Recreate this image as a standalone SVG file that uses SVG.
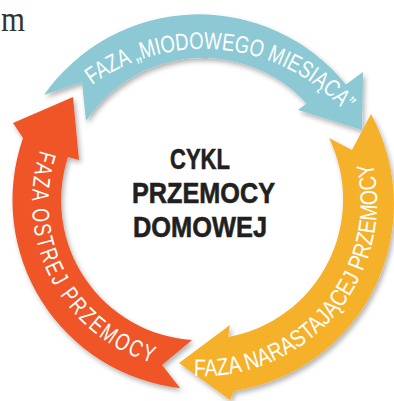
<svg xmlns="http://www.w3.org/2000/svg" width="394" height="401" viewBox="0 0 394 401">
<style>
.band{font-family:"Liberation Sans",Arial,sans-serif;font-size:24px;fill:#ffffff;}
.title{font-family:"Liberation Sans",Arial,sans-serif;font-weight:bold;font-size:29px;fill:#231f20;stroke:#231f20;stroke-width:0.6px;}
</style>
<defs>
<filter id="sh" x="-10%" y="-10%" width="120%" height="120%">
<feDropShadow dx="2" dy="3" stdDeviation="2.5" flood-color="#000" flood-opacity="0.3"/>
</filter>
<path id="pBlue" d="M 92 85 A 190.4 190.4 0 0 1 345 112"/>
<path id="pOrange" d="M 40.2 150.1 A 168 168 0 0 0 170.8 367.4"/>
<path id="pYellow" d="M 193.9 375.8 A 174 174 0 0 0 370.3 154"/>
</defs>
<rect width="394" height="401" fill="#ffffff"/>
<text x="1" y="31" textLength="24" lengthAdjust="spacingAndGlyphs" style="font-family:'Liberation Serif',serif;font-size:36px;fill:#333333">m</text>
<g id="connectors">
<g id="arrow-blue" filter="url(#sh)">
<path d="M 44 95 A 189 189 0 0 1 345.8 84.5 L 363 72 L 362 130 L 298 110 L 306.4 103.5 A 140 140 0 0 0 86 121 L 82 82 Z" fill="#8dc9d4"/>
</g>
<g id="arrow-yellow" filter="url(#sh)">
<path d="M 371 114 A 189 189 0 0 1 234 391 L 230 400 L 179 363 L 230 325 L 228 337 A 140 140 0 0 0 329 138 L 352 150 Z" fill="#f6b12a"/>
</g>
<g id="arrow-orange" filter="url(#sh)">
<path d="M 180 388 A 189 189 0 0 1 23 138 L 13 123 L 73 97 L 79 160 L 68 157 A 140 140 0 0 0 192 340 L 162 365 Z" fill="#ef5526"/>
</g>
</g>
<g id="label-blue">
<text class="band"><textPath href="#pBlue" textLength="278" lengthAdjust="spacingAndGlyphs">FAZA „MIODOWEGO MIESIĄCA”</textPath></text>
</g>
<g id="label-orange">
<text class="band" letter-spacing="3"><textPath href="#pOrange" textLength="270" lengthAdjust="spacingAndGlyphs">FAZA OSTREJ PRZEMOCY</textPath></text>
</g>
<g id="label-yellow">
<text class="band"><textPath href="#pYellow" textLength="322" lengthAdjust="spacingAndGlyphs">FAZA NARASTAJĄCEJ PRZEMOCY</textPath></text>
</g>
<g id="center-title">
<text class="title" x="170" y="169" textLength="60" lengthAdjust="spacingAndGlyphs">CYKL</text>
<text class="title" x="132" y="203" textLength="143" lengthAdjust="spacingAndGlyphs">PRZEMOCY</text>
<text class="title" x="133" y="237" textLength="134" lengthAdjust="spacingAndGlyphs">DOMOWEJ</text>
</g>
</svg>
